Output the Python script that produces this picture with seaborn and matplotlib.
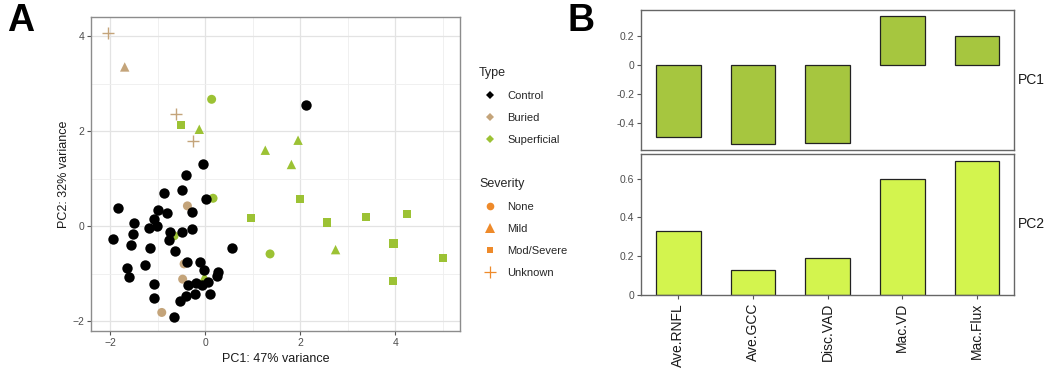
import pandas as pd
import matplotlib
matplotlib.use('Agg')
import matplotlib.pyplot as plt
import seaborn as sns
from matplotlib.lines import Line2D

# A : scores PCA par groupe
control_pc1 = [-0.06, -0.42, -0.88, -0.49, 0.01, -1.85, -0.99, -0.80, -0.28, -1.09,
               -1.51, -1.18, -1.02, -1.52, -0.75, -0.49, -0.28, -1.94, -0.77, -1.56,
               -1.16, -0.64, 0.55, -0.38, -0.11, -1.27, -1.66, -0.03, 0.26, 0.24,
               -1.61, -0.37, -0.20, -0.08, 0.05, -1.08, 0.09, -0.21, -0.41, -1.09,
               -0.54, -0.67, 2.12]
control_pc2 = [1.31, 1.07, 0.70, 0.76, 0.58, 0.38, 0.35, 0.28, 0.30, 0.15,
               0.07, -0.03, 0.00, -0.16, -0.12, -0.12, -0.05, -0.27, -0.28, -0.40,
               -0.46, -0.51, -0.46, -0.74, -0.74, -0.81, -0.87, -0.91, -0.97, -1.05,
               -1.07, -1.24, -1.19, -1.23, -1.16, -1.22, -1.42, -1.43, -1.47, -1.50,
               -1.56, -1.90, 2.55]

buried_pc1 = [-2.05, -0.63, -0.26, -1.70, -0.38, -0.45, -0.48, -0.92]
buried_pc2 = [4.07, 2.37, 1.80, 3.35, 0.43, -0.79, -1.11, -1.81]
buried_sev = ['Unknown', 'Unknown', 'Unknown', 'Mild', 'None', 'None', 'None', 'None']

superficial_pc1 = [0.13, 0.16, 1.36, -0.66,
                   -0.13, 1.95, 1.26, 1.81, 2.74, -0.02,
                   -0.52, 2.00, 0.96, 2.56, 3.39, 4.25, 3.96, 5.01, 3.94]
superficial_pc2 = [2.67, 0.59, -0.58, -0.20,
                   2.04, 1.81, 1.60, 1.30, -0.49, -1.05,
                   2.13, 0.58, 0.18, 0.08, 0.19, 0.25, -0.36, -0.67, -1.14]
superficial_sev = ['None'] * 4 + ['Mild'] * 6 + ['Mod/Severe'] * 9

# B : loadings
variables = ['Ave.RNFL', 'Ave.GCC', 'Disc.VAD', 'Mac.VD', 'Mac.Flux']
pc1_loadings = [-0.50, -0.55, -0.54, 0.335, 0.195]
pc2_loadings = [0.328, 0.128, 0.189, 0.600, 0.693]

type_colors = {'Control': '#000000', 'Buried': '#C4A47A', 'Superficial': '#9CC234'}
sev_color = '#EE8A2A'
sev_markers = {'None': 'o', 'Mild': '^', 'Mod/Severe': 's'}
sev_sizes = {'None': 42, 'Mild': 46, 'Mod/Severe': 34}

df = pd.concat([
    pd.DataFrame({'PC1': buried_pc1, 'PC2': buried_pc2, 'Type': 'Buried', 'Severity': buried_sev}),
    pd.DataFrame({'PC1': superficial_pc1, 'PC2': superficial_pc2, 'Type': 'Superficial', 'Severity': superficial_sev}),
], ignore_index=True)
ctrl = pd.DataFrame({'PC1': control_pc1, 'PC2': control_pc2, 'Type': 'Control', 'Severity': 'None'})

sns.set_style('white')
plt.rcParams['font.family'] = ['Liberation Sans', 'DejaVu Sans']

fig = plt.figure(figsize=(10.53, 3.75), dpi=100)

# Partie A
ax = fig.add_axes([91 / 1053, 1 - 331 / 375, 369 / 1053, 314 / 375])
filled = df[df['Severity'] != 'Unknown']
plus = df[df['Severity'] == 'Unknown']
sns.scatterplot(data=filled, x='PC1', y='PC2', hue='Type', style='Severity', size='Severity',
                palette=type_colors, markers=sev_markers, sizes=sev_sizes,
                linewidth=0, legend=False, ax=ax, zorder=3)
sns.scatterplot(data=plus, x='PC1', y='PC2', color=type_colors['Buried'], marker='+',
                s=80, linewidth=1.0, legend=False, ax=ax, zorder=3)
sns.scatterplot(data=ctrl, x='PC1', y='PC2', color='black', marker='o', s=56,
                linewidth=0, legend=False, ax=ax, zorder=4)

ax.set_xlim(-2.41, 5.36)
ax.set_ylim(-2.20, 4.40)
ax.set_xticks([-2, 0, 2, 4])
ax.set_yticks([-2, 0, 2, 4])
ax.set_xticks([-1, 1, 3, 5], minor=True)
ax.set_yticks([-1, 1, 3], minor=True)
ax.grid(True, which='major', color='#e3e3e3', linewidth=0.9)
ax.grid(True, which='minor', color='#eeeeee', linewidth=0.6)
ax.set_axisbelow(True)
ax.tick_params(which='major', length=3, width=0.8, color='#555555', labelsize=7.5,
               labelcolor='#4d4d4d', pad=2, left=True, bottom=True)
ax.tick_params(which='minor', length=0)
for sp in ax.spines.values():
    sp.set_color('#8c8c8c')
    sp.set_linewidth(1.0)
ax.set_xlabel('PC1: 47% variance', fontsize=9, color='#1a1a1a', labelpad=4)
ax.set_ylabel('PC2: 32% variance', fontsize=9, color='#1a1a1a', labelpad=1.5)

# Legendes
type_handles = [Line2D([], [], marker='D', linestyle='', color=c, markersize=4.5, markeredgewidth=0)
                for c in type_colors.values()]
leg1 = fig.legend(handles=type_handles, labels=list(type_colors.keys()), title='Type',
                  loc='upper left', bbox_to_anchor=(479 / 1053, 1 - 67 / 375), frameon=False,
                  fontsize=8, title_fontsize=9, alignment='left', borderpad=0, borderaxespad=0,
                  handlelength=2, handletextpad=0.55, labelspacing=1.08)
sev_handles = [
    Line2D([], [], marker='o', linestyle='', color=sev_color, markersize=5.5, markeredgewidth=0),
    Line2D([], [], marker='^', linestyle='', color=sev_color, markersize=6.5, markeredgewidth=0),
    Line2D([], [], marker='s', linestyle='', color=sev_color, markersize=5, markeredgewidth=0),
    Line2D([], [], marker='+', linestyle='', color=sev_color, markersize=9, markeredgewidth=0.9),
]
leg2 = fig.legend(handles=sev_handles, labels=['None', 'Mild', 'Mod/Severe', 'Unknown'], title='Severity',
                  loc='upper left', bbox_to_anchor=(479 / 1053, 1 - 178 / 375), frameon=False,
                  fontsize=8, title_fontsize=9, alignment='left', borderpad=0, borderaxespad=0,
                  handlelength=2, handletextpad=0.55, labelspacing=1.08)

# Partie B
ax_top = fig.add_axes([641 / 1053, 1 - 150 / 375, 373.3 / 1053, 140 / 375])
ax_bot = fig.add_axes([641 / 1053, 1 - 294.7 / 375, 373.3 / 1053, 140.7 / 375])
sns.barplot(x=variables, y=pc1_loadings, ax=ax_top, color='#A6C63F', saturation=1,
            edgecolor='#222222', linewidth=0.9, width=0.6)
sns.barplot(x=variables, y=pc2_loadings, ax=ax_bot, color='#D3F44E', saturation=1,
            edgecolor='#222222', linewidth=0.9, width=0.6)

ax_top.set_xlim(-0.5, 4.5)
ax_top.set_ylim(-0.589, 0.377)
ax_top.set_yticks([-0.4, -0.2, 0, 0.2])
ax_top.set_yticklabels(['-0.4', '-0.2', '0', '0.2'])
ax_top.tick_params(axis='x', length=0, labelbottom=False)
ax_bot.set_xlim(-0.5, 4.5)
ax_bot.set_ylim(0, 0.729)
ax_bot.set_yticks([0, 0.2, 0.4, 0.6])
ax_bot.set_yticklabels(['0', '0.2', '0.4', '0.6'])
ax_bot.tick_params(axis='x', labelrotation=90, labelsize=10, labelcolor='#1a1a1a', length=3,
                   color='#555555', bottom=True, pad=3)
for a, lab in [(ax_top, 'PC1'), (ax_bot, 'PC2')]:
    a.tick_params(axis='y', length=3, width=0.8, color='#555555', labelsize=7.5,
                  labelcolor='#4d4d4d', pad=2, left=True)
    a.set_xlabel('')
    a.set_ylabel('')
    for sp in a.spines.values():
        sp.set_color('#666666')
        sp.set_linewidth(1.0)
    a.text(1.01, 0.5, lab, transform=a.transAxes, ha='left', va='center', fontsize=10, color='#1a1a1a')

fig.text(7 / 1053, 1 - 3 / 375, 'A', fontsize=27, fontweight='bold', color='black', va='top', ha='left')
fig.text(567 / 1053, 1 - 3 / 375, 'B', fontsize=27, fontweight='bold', color='black', va='top', ha='left')

fig.savefig('out.png', dpi=100)
